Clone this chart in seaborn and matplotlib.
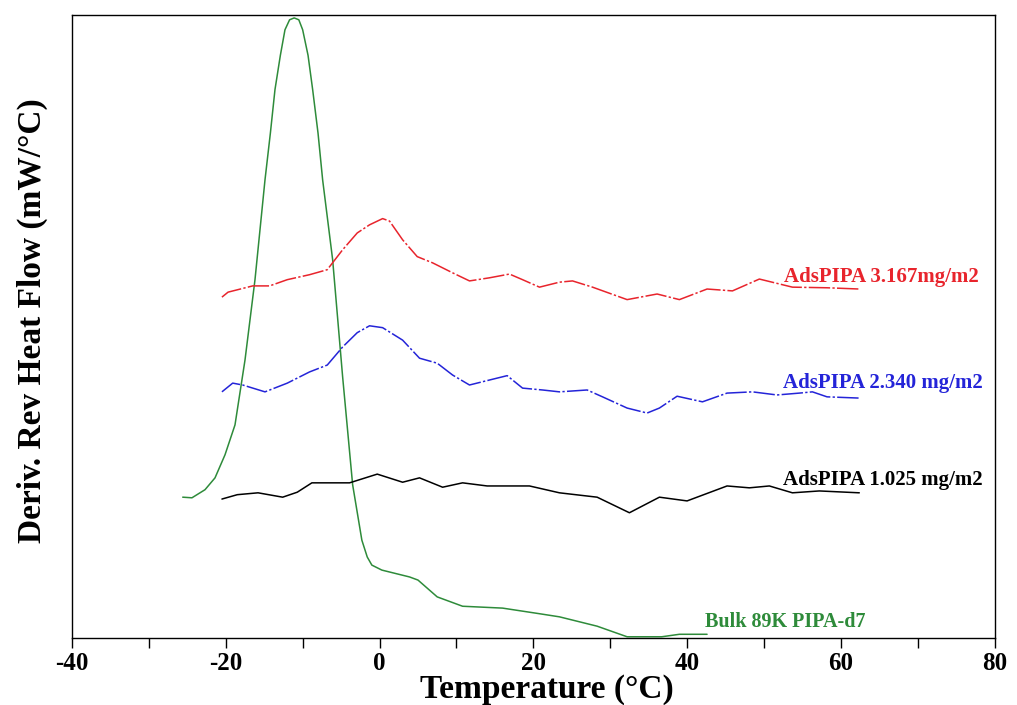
import numpy as np
import pandas as pd
import matplotlib
matplotlib.use("Agg")
import matplotlib.pyplot as plt
import seaborn as sns
from matplotlib.ticker import MultipleLocator

# Bulk 89K PIPA-d7 (green)
bulk_t = [-25.6, -24.4, -22.7, -21.4, -20.1, -18.8, -17.5, -16.2, -14.9, -14.2,
          -13.6, -12.9, -12.3, -11.7, -11.1, -10.5, -10.0, -9.3, -8.7, -8.0,
          -7.4, -6.1, -4.8, -3.5, -2.3, -1.6, -1.0, 0.3,
          3.9, 5.0, 7.5, 10.8, 16.0, 20.8, 23.4, 28.3, 32.2, 36.7, 39.0, 42.6]
bulk_y = [22.6, 22.5, 23.8, 25.7, 29.4, 34.2, 44.6, 57.5, 73.5, 81.0,
          88.0, 93.5, 97.6, 99.2, 99.5, 99.2, 97.6, 93.5, 88.0, 81.0,
          73.5, 60.7, 41.9, 24.6, 15.7, 13.0, 11.7, 10.9,
          9.8, 9.3, 6.6, 5.1, 4.8, 3.9, 3.4, 1.9, 0.2, 0.2, 0.6, 0.6]

# AdsPIPA 3.167 mg/m2 (red)
red_t = [-20.5, -19.7, -16.5, -14.3, -12.0, -9.1, -6.8, -4.8, -2.9, -1.3, 0.4,
         1.3, 3.0, 4.9, 6.9, 9.5, 11.7, 14.3, 16.9, 18.6, 20.8, 23.4, 25.1,
         27.7, 32.2, 36.1, 39.0, 42.6, 45.9, 49.4, 53.7, 58.2, 62.4]
red_y = [54.7, 55.5, 56.5, 56.5, 57.5, 58.3, 59.1, 62.3, 65.0, 66.3, 67.3,
         66.9, 63.9, 61.2, 60.2, 58.6, 57.3, 57.8, 58.4, 57.5, 56.3, 57.1, 57.3,
         56.3, 54.3, 55.2, 54.3, 56.0, 55.7, 57.6, 56.3, 56.2, 56.0]

# AdsPIPA 2.340 mg/m2 (blue)
blue_t = [-20.5, -19.1, -17.8, -14.9, -12.0, -9.1, -6.8, -4.8, -2.9, -1.3, 0.4,
          3.0, 5.2, 7.5, 9.5, 11.7, 14.3, 16.6, 18.6, 21.2, 23.4, 27.0, 29.0,
          32.2, 34.8, 36.4, 38.7, 42.0, 45.2, 48.5, 51.7, 54.6, 56.3, 58.2, 62.4]
blue_y = [39.5, 40.9, 40.6, 39.5, 40.9, 42.7, 43.8, 46.7, 49.0, 50.1, 49.8,
          47.8, 44.9, 44.1, 42.2, 40.6, 41.4, 42.1, 40.1, 39.8, 39.5, 39.8, 38.7,
          36.9, 36.1, 36.9, 38.8, 37.9, 39.3, 39.5, 39.0, 39.3, 39.5, 38.7, 38.5]

# AdsPIPA 1.025 mg/m2 (black)
black_t = [-20.5, -18.5, -15.8, -12.6, -10.7, -8.8, -6.5, -3.9, -0.3, 3.0, 5.2,
           8.2, 10.8, 14.0, 19.5, 23.4, 28.3, 32.5, 36.4, 40.0, 45.2, 48.1,
           50.7, 53.7, 57.2, 62.4]
black_y = [22.3, 23.0, 23.3, 22.6, 23.4, 24.9, 24.9, 24.9, 26.3, 25.0, 25.7,
           24.2, 24.9, 24.4, 24.4, 23.3, 22.6, 20.1, 22.6, 22.0, 24.4, 24.1,
           24.4, 23.3, 23.6, 23.3]

sns.set_theme(style="ticks")
plt.rcParams['font.family'] = ['Liberation Serif', 'DejaVu Serif']
plt.rcParams['font.weight'] = 'bold'
plt.rcParams['axes.unicode_minus'] = False
plt.rcParams['text.color'] = 'black'
plt.rcParams['axes.labelcolor'] = 'black'
plt.rcParams['xtick.color'] = 'black'

fig = plt.figure(figsize=(10.17, 7.05), dpi=100)
ax = fig.add_axes([0.0708, 0.095, 0.9072, 0.884])

dashdot = (0, (14, 1.5, 1.5, 1.5))
sns.lineplot(x=bulk_t, y=bulk_y, ax=ax, color="#2e8b3a", linewidth=1.1)
sns.lineplot(x=red_t, y=red_y, ax=ax, color="#e8242c", linewidth=1.1, linestyle=dashdot)
sns.lineplot(x=blue_t, y=blue_y, ax=ax, color="#2424d8", linewidth=1.1, linestyle=dashdot)
sns.lineplot(x=black_t, y=black_y, ax=ax, color="black", linewidth=1.1)

ax.text(78.0, 58.0, "AdsPIPA 3.167mg/m2", color="#e8242c", fontsize=15,
        fontweight="bold", ha="right", va="center")
ax.text(78.4, 41.0, "AdsPIPA 2.340 mg/m2", color="#2424d8", fontsize=15,
        fontweight="bold", ha="right", va="center")
ax.text(78.4, 25.3, "AdsPIPA 1.025 mg/m2", color="black", fontsize=15,
        fontweight="bold", ha="right", va="center")
ax.text(63.2, 2.6, "Bulk 89K PIPA-d7", color="#2e8b3a", fontsize=14.5,
        fontweight="bold", ha="right", va="center")

ax.set_xlim(-40, 80)
ax.set_ylim(0, 100)
ax.xaxis.set_major_locator(MultipleLocator(20))
ax.xaxis.set_minor_locator(MultipleLocator(10))
ax.tick_params(axis="x", which="both", direction="out", length=7, width=1,
               labelsize=18, pad=3, colors="black")
ax.set_yticks([])
for lab in ax.get_xticklabels():
    lab.set_fontweight("bold")

ax.set_xlabel("Temperature (\u00b0C)", fontsize=24, fontweight="bold")
ax.set_ylabel("Deriv. Rev Heat Flow (mW/\u00b0C)", fontsize=24, fontweight="bold")
ax.xaxis.set_label_coords(0.515, -0.058)
ax.yaxis.set_label_coords(-0.026, 0.51)

for s in ax.spines.values():
    s.set_visible(True)
    s.set_color("black")
    s.set_linewidth(1)

fig.savefig("out.png", dpi=100)
